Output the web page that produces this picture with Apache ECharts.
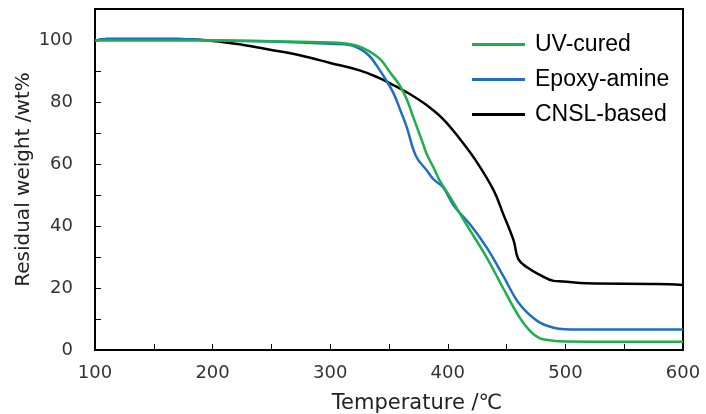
<!DOCTYPE html>
<html>
<head>
<meta charset="utf-8">
<script src="https://cdn.jsdelivr.net/npm/echarts@6/dist/echarts.min.js"></script>
<style>html,body{margin:0;padding:0;background:#fff;}#c{width:706px;height:414px;}</style>
</head>
<body>
<div id="c"></div>
<script>
var seriesNames = ['UV-cured', 'Epoxy-amine', 'CNSL-based'];
var uvTemp   = [100, 150, 200, 250, 300, 316, 328, 342, 351, 359, 365, 371, 379, 382, 389, 393, 402, 415, 433, 447, 461, 470, 478, 484, 495, 520, 600];
var uvWeight = [99.8, 99.8, 99.8, 99.6, 99.2, 98.7, 97.4, 94, 89.5, 85.4, 81, 74.7, 66.5, 63.3, 58, 54.7, 49.3, 41, 29.9, 20, 10.5, 6.1, 3.8, 3.3, 2.8, 2.7, 2.7];
var epTemp   = [100, 110, 170, 200, 250, 300, 317, 325, 333, 340, 346, 354, 360, 365, 373, 382, 388, 396, 405, 420, 433, 447, 461, 476, 490, 500, 520, 600];
var epWeight = [99.8, 100.3, 100.3, 99.9, 99.5, 98.8, 98.4, 97.2, 95, 91.5, 88, 82.7, 77, 72, 62.5, 58, 55, 52.5, 46.6, 40, 33.1, 24, 14.8, 9.4, 7.2, 6.7, 6.6, 6.6];
var cnTemp   = [100, 110, 170, 200, 225, 250, 275, 300, 325, 340, 354, 368, 382, 396, 410, 424, 439, 447, 456, 460, 468, 478, 490, 498, 518, 578, 600];
var cnWeight = [99.8, 100.3, 100.3, 99.7, 98.5, 96.8, 95, 92.6, 90.2, 88, 85.4, 82.5, 79, 74.5, 68.2, 61, 51.5, 44, 35.3, 29.3, 26.5, 24.3, 22.3, 22.1, 21.5, 21.3, 21];
var xTickLabels = [100, 200, 300, 400, 500, 600];
var yTickLabels = [0, 20, 40, 60, 80, 100];

function pairs(t, w) { return t.map(function (v, i) { return [v, w[i]]; }); }
var colors = ['#1fae4b', '#1f6ec2', '#000000'];
var dataSets = [pairs(uvTemp, uvWeight), pairs(epTemp, epWeight), pairs(cnTemp, cnWeight)];

var chart = echarts.init(document.getElementById('c'), null, {renderer: 'canvas'});
var font = 'DejaVu Sans';
chart.setOption({
  animation: false,
  backgroundColor: '#fff',
  grid: {left: 95, right: 23, top: 9, bottom: 64, containLabel: false, outerBoundsMode: 'none',
         show: true, borderColor: '#000', borderWidth: 2, backgroundColor: 'transparent'},
  legend: {
    orient: 'vertical', left: 467, top: 28, itemGap: 12,
    itemWidth: 53, itemHeight: 3, icon: 'rect',
    data: seriesNames,
    textStyle: {fontFamily: 'Liberation Sans', fontSize: 23, color: '#000', padding: [0, 0, 0, 5]}
  },
  xAxis: {
    type: 'value', min: 100, max: 600, interval: 50,
    name: 'Temperature /℃', nameLocation: 'middle', nameGap: 43, nameMoveOverlap: false,
    nameTextStyle: {fontFamily: font, fontSize: 21, color: '#222', padding: [0, 0, 0, 56]},
    axisLine: {show: true, onZero: false, lineStyle: {color: '#000', width: 2}},
    axisTick: {show: true, inside: true, length: 6, lineStyle: {color: '#000', width: 1}},
    splitLine: {show: false},
    axisLabel: {
      margin: 14, fontFamily: font, fontSize: 18, color: '#333',
      formatter: function (v) { return xTickLabels.indexOf(v) >= 0 ? String(v) : ''; }
    }
  },
  yAxis: {
    type: 'value', min: 0, max: 110, interval: 10,
    name: 'Residual weight /wt%', nameLocation: 'middle', nameGap: 61, nameMoveOverlap: false,
    nameTextStyle: {fontFamily: font, fontSize: 20, color: '#222'},
    axisLine: {show: true, onZero: false, lineStyle: {color: '#000', width: 2}},
    axisTick: {show: true, inside: true, length: 6, lineStyle: {color: '#000', width: 1}},
    splitLine: {show: false},
    axisLabel: {
      margin: 22, fontFamily: font, fontSize: 18, color: '#333',
      formatter: function (v) { return yTickLabels.indexOf(v) >= 0 ? String(v) : ''; }
    }
  },
  series: seriesNames.map(function (n, i) {
    return {
      name: n, type: 'line', data: dataSets[i], showSymbol: false, symbol: 'none',
      smooth: 0.4,
      color: colors[i],
      lineStyle: {color: colors[i], width: 2.5},
      z: 3 - i
    };
  })
});
</script>
</body>
</html>
